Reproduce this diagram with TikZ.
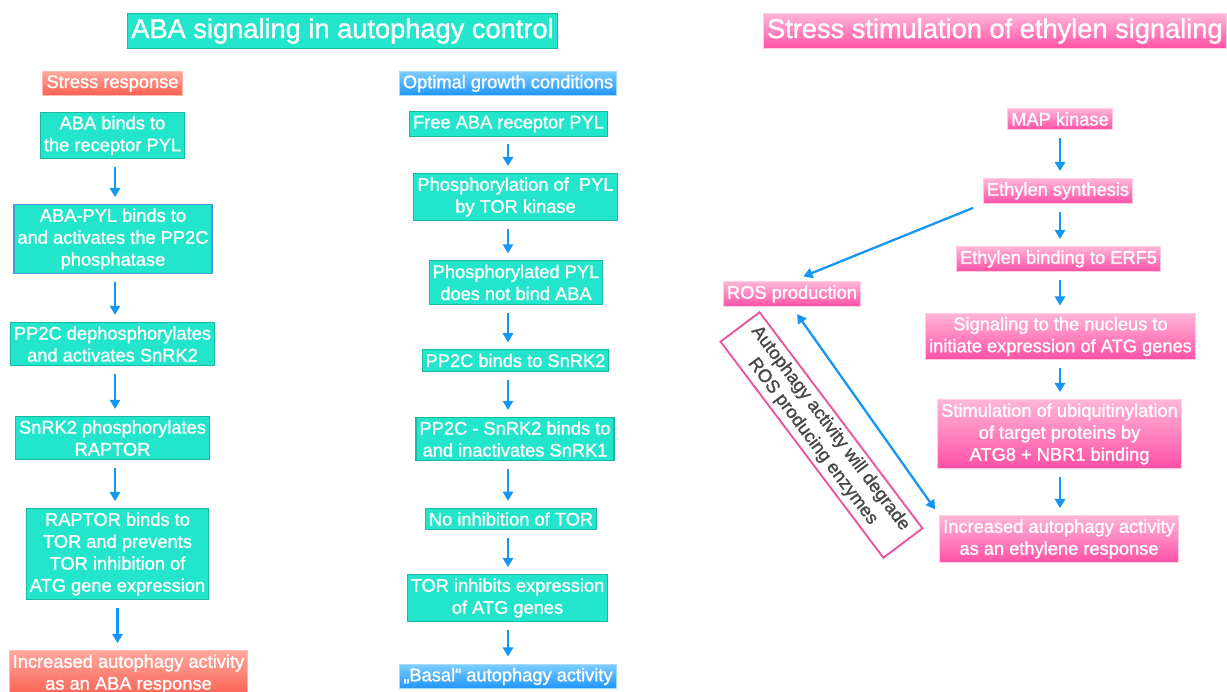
\documentclass[tikz,border=0pt]{standalone}
\usepackage{fontspec}
\setmainfont{Liberation Sans}
\newfontfamily\medfont{Liberation Sans}[FakeBold=1.2]
\usetikzlibrary{arrows.meta,positioning,calc}
\definecolor{turq}{RGB}{34,229,204}
\definecolor{turqline}{RGB}{26,185,160}
\definecolor{selline}{RGB}{70,150,225}
\definecolor{salmtop}{RGB}{255,168,158}
\definecolor{salmbot}{RGB}{250,95,80}
\definecolor{bluetop}{RGB}{125,205,255}
\definecolor{bluebot}{RGB}{30,148,250}
\definecolor{pinktop}{RGB}{255,182,215}
\definecolor{pinkbot}{RGB}{255,80,165}
\definecolor{pinkline}{RGB}{232,88,160}
\definecolor{arrblue}{RGB}{20,150,245}
\newcommand{\boxfont}{\medfont\fontsize{10.4}{12.5}\selectfont}
\newcommand{\hdfont}{\medfont\fontsize{15.5}{18}\selectfont}

\begin{document}
\begin{tikzpicture}[x=0.02cm,y=-0.02cm,
  box/.style={draw=turqline,fill=turq,text=white,align=center,
    inner xsep=2pt,inner ysep=2.2pt,font=\boxfont,line width=0.6pt},
  salm/.style={box,draw=salmtop!80!white,top color=salmtop,bottom color=salmbot},
  bluebox/.style={box,draw=bluetop!70!white,top color=bluetop,bottom color=bluebot},
  pinkbox/.style={box,draw=pinktop!70!white,top color=pinktop,bottom color=pinkbot},
  hd/.style={font=\hdfont,inner xsep=2pt,inner ysep=3pt},
  arr/.style={arrblue,line width=1.3pt,-{Triangle[width=5.8pt,length=5.2pt]},
    shorten <=4.5pt,shorten >=4pt},
  note/.style={draw=pinkline,line width=1.1pt,fill=white,text=black!72,
    align=center,font=\boxfont,minimum width=154pt,minimum height=27.8pt,
    inner sep=1pt}]

\useasboundingbox[fill=white] (0,0) rectangle (1227,691);

%% column lines for the arrows
\coordinate (lcol) at (115,0);
\coordinate (mcol) at (508,0);
\coordinate (rcol) at (1060,0);

%% left: ABA signaling
\node[box,hd] (tabA) at (342.5,31) {ABA signaling in autophagy control};
\node[salm] (stress) at (112.5,83.5) {Stress response};
\node[bluebox] (optim) at (508,83.5) {Optimal growth conditions};

\node[box] (a1) at (112.5,135.5) {ABA binds to\\the receptor PYL};
\node[box,draw=selline] (a2) at (113,239) {ABA-PYL binds to\\and activates the PP2C\\phosphatase};
\node[box] (a3) at (112.5,344) {PP2C dephosphorylates\\and activates SnRK2};
\node[box] (a4) at (112.5,438) {SnRK2 phosphorylates\\RAPTOR};
\node[box] (a5) at (117.5,554) {RAPTOR binds to\\TOR and prevents\\TOR inhibition of\\ATG gene expression};
\node[salm] (a6) at (128.5,674) {Increased autophagy activity\\as an ABA response};

\foreach \s/\t in {a1/a2,a2/a3,a3/a4,a4/a5}
  \draw[arr] (\s.south -| lcol) -- (\t.north -| lcol);
\draw[arr] (a5.south) -- (a5.south |- a6.north);

%% middle: optimal growth
\node[box] (m1) at (508.5,124) {Free ABA receptor PYL};
\node[box] (m2) at (515.5,197) {Phosphorylation of\ \ PYL\\by TOR kinase};
\node[box] (m3) at (516,282.5) {Phosphorylated PYL\\does not bind ABA};
\node[box] (m4) at (515.5,360.5) {PP2C binds to SnRK2};
\node[box] (m5) at (515,439) {PP2C - SnRK2 binds to\\and inactivates SnRK1};
\node[box] (m6) at (511,519) {No inhibition of TOR};
\node[box] (m7) at (507.5,598) {TOR inhibits expression\\of ATG genes};
\node[bluebox] (m8) at (508,676.5) {„Basal“ autophagy activity};

\foreach \s/\t in {m1/m2,m2/m3,m3/m4,m4/m5,m5/m6,m6/m7,m7/m8}
  \draw[arr] (\s.south -| mcol) -- (\t.north -| mcol);

%% right: ethylen signaling
\node[pinkbox,hd,anchor=west] (tabE) at (763,31) {Stress stimulation of ethylen signaling};
\node[pinkbox] (e1) at (1060,119) {MAP kinase};
\node[pinkbox] (e2) at (1058,191) {Ethylen synthesis};
\node[pinkbox] (e3) at (1058.5,259) {Ethylen binding to ERF5};
\node[pinkbox] (e4) at (1060.5,336.5) {Signaling to the nucleus to\\initiate expression of ATG genes};
\node[pinkbox] (e5) at (1059.5,434) {Stimulation of ubiquitinylation\\of target proteins by\\ATG8 + NBR1 binding};
\node[pinkbox] (e6) at (1059,539) {Increased autophagy activity\\as an ethylene response};
\node[pinkbox] (ros) at (792,294) {ROS production};

\foreach \s/\t in {e1/e2,e2/e3,e3/e4,e4/e5,e5/e6}
  \draw[arr] (\s.south -| rcol) -- (\t.north -| rcol);

\draw[arr,shorten <=6pt,shorten >=7pt] (e2.south west) -- (ros.north);
\draw[arr,{Triangle[width=5.8pt,length=5.2pt]}-{Triangle[width=5.8pt,length=5.2pt]},
  shorten <=5pt,shorten >=4pt] (ros.south) -- (e6.north west);

\node[note,rotate=-53] (deg) at (821.5,435) {Autophagy activity will degrade\\ROS producing enzymes};
\end{tikzpicture}
\end{document}
